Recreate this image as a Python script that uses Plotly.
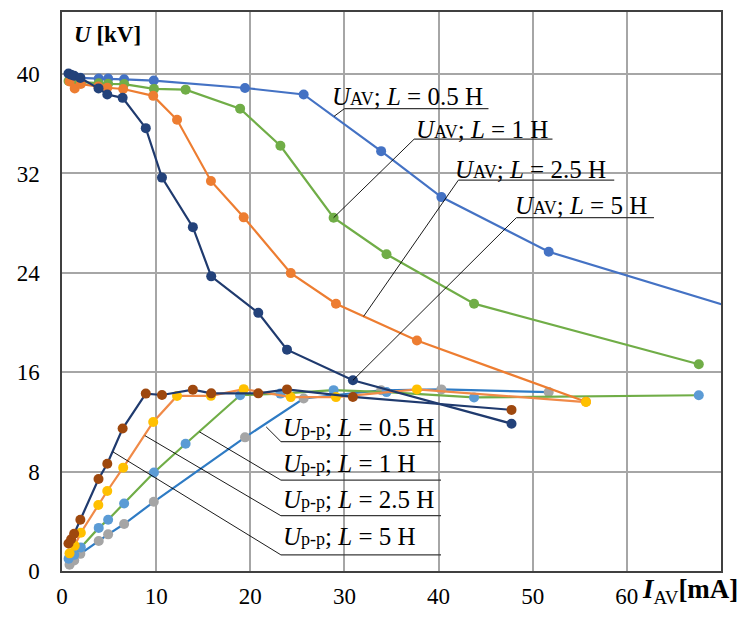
import plotly.graph_objects as go

# Measured average current I_AV [mA] for each inductance
i_av_05 = [0.8, 1.3, 1.95, 3.9, 4.9, 6.6, 9.75, 19.44, 25.67, 33.9, 40.3, 51.7, 76.0]
i_av_1 = [0.7, 1.3, 2.0, 3.9, 4.9, 6.6, 9.77, 13.13, 18.92, 23.2, 28.85, 34.47, 43.77, 67.64]
i_av_25 = [0.8, 1.35, 2.0, 3.86, 4.81, 6.5, 9.69, 12.22, 15.82, 19.3, 24.3, 29.1, 37.7, 55.66]
i_av_5 = [0.69, 0.97, 1.29, 1.95, 3.88, 4.81, 6.44, 8.9, 10.62, 13.9, 15.85, 20.85, 23.9, 30.9, 47.75]

# Average output voltage U_AV [kV]
u_av_05 = [39.9, 39.8, 39.7, 39.64, 39.64, 39.58, 39.48, 38.88, 38.36, 33.8, 30.1, 25.7, 20.1]
u_av_1 = [39.45, 39.4, 39.35, 39.27, 39.22, 39.2, 38.81, 38.75, 37.22, 34.23, 28.44, 25.5, 21.52, 16.64]
u_av_25 = [39.4, 38.85, 39.2, 39.0, 38.9, 38.8, 38.25, 36.32, 31.4, 28.47, 23.98, 21.52, 18.55, 13.63]
u_av_5 = [40.05, 39.95, 39.87, 39.69, 38.85, 38.36, 38.09, 35.65, 31.67, 27.68, 23.72, 20.78, 17.82, 15.35, 11.86]

# Peak-to-peak ripple voltage U_p-p [kV]
u_pp_05 = [0.51, 0.85, 1.38, 2.42, 2.95, 3.78, 5.57, 10.76, 13.89, 14.55, 14.62, 14.4, None]
u_pp_1 = [0.98, 1.3, 1.9, 3.47, 4.13, 5.44, 7.93, 10.24, 14.15, 14.28, 14.56, 14.4, 13.97, 14.15]
u_pp_25 = [1.42, 2.03, 3.08, 5.31, 6.44, 8.32, 12.0, 14.09, 14.1, 14.64, 14.0, 14.0, 14.62, 13.6]
u_pp_5 = [2.21, 2.56, 3.0, 4.13, 7.4, 8.64, 11.47, 14.28, 14.17, 14.6, 14.3, 14.3, 14.62, 14.01, 12.97]

x_ticks = [0, 10, 20, 30, 40, 50, 60]
y_ticks = [0, 8, 16, 24, 32, 40]

SERIF = "Liberation Serif"

# (x, y, line colour, marker colour) in drawing order
series = [
    (i_av_05, u_av_05, "#4472C4", "#4472C4"),
    (i_av_05, u_pp_05, "#2E7BC4", "#A5A5A5"),
    (i_av_1, u_av_1, "#70AD47", "#70AD47"),
    (i_av_1, u_pp_1, "#70AD47", "#5B9BD5"),
    (i_av_25, u_av_25, "#ED7D31", "#ED7D31"),
    (i_av_25, u_pp_25, "#F08A48", "#FFC000"),
    (i_av_5, u_av_5, "#1F3A6E", "#23427A"),
    (i_av_5, u_pp_5, "#1F3A6E", "#9E480E"),
]

fig = go.Figure()
for xs, ys, lc, mc in series:
    fig.add_trace(go.Scatter(
        x=xs, y=ys, mode="lines+markers",
        line=dict(color=lc, width=2.2),
        marker=dict(color=mc, size=10),
        connectgaps=False, showlegend=False, hoverinfo="skip",
    ))

# Callout labels: text, point on the curve, text anchor, underline span
small = "font-size:18px"
callouts = [
    (f"<i>U</i><span style='{small}'>AV</span>; <i>L</i> = 0.5 H", (28.9, 36.6), (28.5, 38.2), (30.0, 45.3, 37.22)),
    (f"<i>U</i><span style='{small}'>AV</span>; <i>L</i> = 1 H", (28.85, 28.44), (37.35, 35.55), (37.4, 52.1, 34.76)),
    (f"<i>U</i><span style='{small}'>AV</span>; <i>L</i> = 2.5 H", (32.04, 20.5), (41.56, 32.32), (42.1, 58.66, 31.46)),
    (f"<i>U</i><span style='{small}'>AV</span>; <i>L</i> = 5 H", (30.9, 15.35), (47.9, 29.41), (48.26, 62.88, 28.44)),
    (f"<i>U</i><span style='{small}'>p-p</span>; <i>L</i> = 0.5 H", (21.69, 11.6), (23.25, 11.58), (23.25, 40.26, 10.42)),
    (f"<i>U</i><span style='{small}'>p-p</span>; <i>L</i> = 1 H", (14.6, 11.2), (23.25, 8.68), (23.25, 40.26, 7.32)),
    (f"<i>U</i><span style='{small}'>p-p</span>; <i>L</i> = 2.5 H", (8.8, 10.9), (23.25, 5.73), (23.25, 40.26, 4.45)),
    (f"<i>U</i><span style='{small}'>p-p</span>; <i>L</i> = 5 H", (5.4, 9.6), (23.25, 2.74), (23.25, 40.26, 1.3)),
]

shapes = []
annotations = []
for text, (px, py), (tx, ty), (ux0, ux1, uy) in callouts:
    shapes.append(dict(type="line", xref="x", yref="y", x0=px, y0=py, x1=ux0, y1=uy,
                       line=dict(color="#000000", width=0.9)))
    shapes.append(dict(type="line", xref="x", yref="y", x0=ux0, y0=uy, x1=ux1, y1=uy,
                       line=dict(color="#3A3A3A", width=1.3)))
    annotations.append(dict(xref="x", yref="y", x=tx, y=ty, text=text, showarrow=False,
                            xanchor="left", yanchor="middle",
                            font=dict(family=SERIF, size=25, color="#000000")))

# Axis titles
annotations.append(dict(xref="x", yref="y", x=1.1, y=43.2, showarrow=False,
                        xanchor="left", yanchor="middle",
                        text="<b><i>U</i> [kV]</b>",
                        font=dict(family=SERIF, size=23, color="#000000")))
annotations.append(dict(xref="x", yref="paper", x=61.4, y=-0.036, showarrow=False,
                        xanchor="left", yanchor="middle",
                        text="<b><i>I</i></b><sub>AV</sub><b>[mA]</b>",
                        font=dict(family=SERIF, size=27, color="#000000")))

fig.update_layout(
    width=747, height=619,
    margin=dict(l=62, r=26, t=10, b=38),
    paper_bgcolor="white", plot_bgcolor="white",
    shapes=shapes, annotations=annotations,
    font=dict(family=SERIF, size=23, color="#000000"),
)
fig.update_xaxes(
    range=[0, 70], tickvals=x_ticks, ticktext=[str(v) for v in x_ticks],
    showgrid=True, gridcolor="#A6A6A6", gridwidth=1.5,
    showline=True, linecolor="#404040", linewidth=1.5, mirror=True,
    zeroline=False, ticks="", ticklabelstandoff=4,
    tickfont=dict(family=SERIF, size=23, color="#000000"),
)
fig.update_yaxes(
    range=[0, 45], tickvals=y_ticks, ticktext=[str(v) for v in y_ticks],
    showgrid=True, gridcolor="#A6A6A6", gridwidth=1.5,
    showline=True, linecolor="#404040", linewidth=1.5, mirror=True,
    zeroline=False, ticks="", ticklabelstandoff=16,
    tickfont=dict(family=SERIF, size=23, color="#000000"),
)

fig.write_html("out.html")
